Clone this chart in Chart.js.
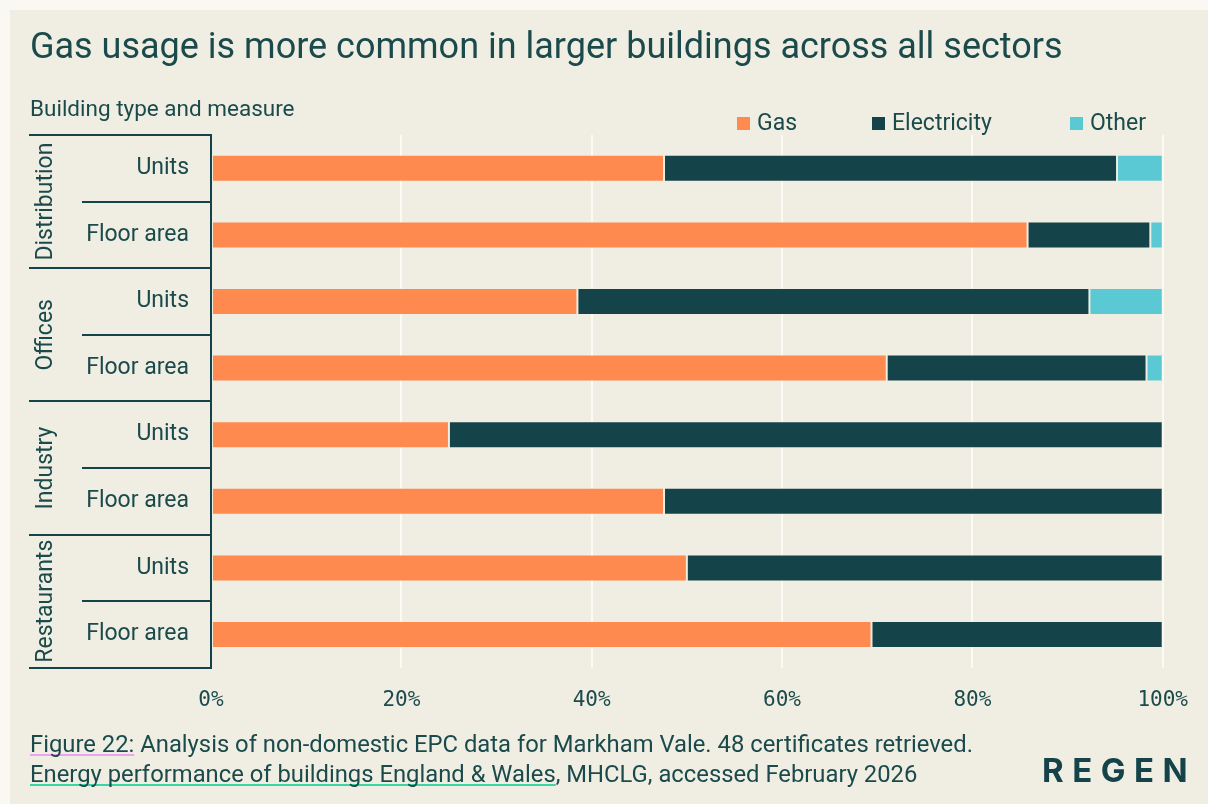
<!DOCTYPE html>
<html>
<head>
<meta charset="utf-8">
<script src="https://cdn.jsdelivr.net/npm/chart.js@4"></script>
<style>
  html, body { margin: 0; padding: 0; background: #f9f8f3; }
  #frame {
    position: absolute; left: 10px; top: 10px; width: 1198px; height: 794px;
    background: #f0eee2; color: #1b4a4c; font-family: Roboto, "Noto Sans", sans-serif;
  }
  #frame canvas { position: absolute; left: 0; top: 0; }
  .title { position: absolute; left: 20px; top: 15px; font-size: 36px; white-space: nowrap; }
  .caption { position: absolute; left: 20px; top: 85px; font-size: 22.5px; white-space: nowrap; }
  .note { position: absolute; left: 20px; font-size: 23.8px; white-space: nowrap; }
  .note1 { top: 720px; }
  .note2 { top: 750px; }
  .ul-pink, .ul-green {
    text-decoration: underline; text-decoration-thickness: 2px;
    text-underline-offset: 2px; text-decoration-skip-ink: none;
  }
  .ul-pink { text-decoration-color: #eba4f4; }
  .ul-green { text-decoration-color: #37d6a4; }
  .logo { position: absolute; left: 1032px; top: 740px; font-family: Inter, sans-serif; font-weight: 700;
          font-size: 33px; letter-spacing: 8.5px; color: #14444a; }
</style>
</head>
<body>
<div id="frame">
  <canvas id="chart" width="1198" height="794"></canvas>
  <div class="title">Gas usage is more common in larger buildings across all sectors</div>
  <div class="caption">Building type and measure</div>
  <div class="note note1"><span class="ul-pink">Figure 22:</span> Analysis of non-domestic EPC data for Markham Vale. 48 certificates retrieved.</div>
  <div class="note note2"><span class="ul-green">Energy performance of buildings England &amp; Wales</span>, MHCLG, accessed February 2026</div>
  <div class="logo">REGEN</div>
</div>
<script>
// Share of EPC certificates (units) and floor area by main heating fuel, per building type

const groups = ["Distribution", "Offices", "Industry", "Restaurants"];
const measures = ["Units", "Floor area"];
const categories = ["Distribution Units", "Distribution Floor area", "Offices Units", "Offices Floor area",
  "Industry Units", "Industry Floor area", "Restaurants Units", "Restaurants Floor area"];

const gasShare = [47.6, 85.8, 38.5, 71.0, 25.0, 47.6, 50.0, 69.4];
const electricityShare = [47.6, 12.9, 53.8, 27.3, 75.0, 52.4, 50.0, 30.6];
const otherShare = [4.8, 1.3, 7.7, 1.7, 0, 0, 0, 0];

const xTicks = [0, 20, 40, 60, 80, 100];

const INK = "#1b4a4c";
const TEAL = "#14444a";

// ── Category labels, group brackets and legend ──

const decorations = {
  id: "decorations",
  afterDraw(chart) {
    var ctx = chart.ctx;
    var area = chart.chartArea;
    var y = chart.scales.y;
    var step = y.getPixelForValue(1) - y.getPixelForValue(0);

    ctx.save();
    ctx.fillStyle = INK;
    ctx.strokeStyle = TEAL;
    ctx.lineWidth = 2;

    // measure labels, right aligned against the axis
    ctx.font = "23px Roboto, sans-serif";
    ctx.textAlign = "right";
    ctx.textBaseline = "middle";
    categories.forEach(function (c, i) {
      ctx.fillText(measures[i % measures.length], area.left - 22, y.getPixelForValue(i));
    });

    // separators: long ones between groups, short ones between measures
    for (var i = 0; i <= categories.length; i++) {
      var py = Math.round(y.getPixelForValue(i) - step / 2);
      var x0 = (i % measures.length === 0) ? 19 : 72;
      ctx.beginPath();
      ctx.moveTo(x0, py);
      ctx.lineTo(area.left + 1, py);
      ctx.stroke();
    }

    // rotated group names
    ctx.textAlign = "center";
    groups.forEach(function (g, gi) {
      var first = gi * measures.length;
      var cy = (y.getPixelForValue(first) + y.getPixelForValue(first + measures.length - 1)) / 2;
      ctx.save();
      ctx.translate(36, cy);
      ctx.rotate(-Math.PI / 2);
      ctx.fillText(g, 0, 0);
      ctx.restore();
    });

    // legend
    var legendX = [727, 862, 1060];
    ctx.font = "23px Roboto, sans-serif";
    ctx.textAlign = "left";
    chart.data.datasets.forEach(function (ds, di) {
      ctx.fillStyle = ds.backgroundColor;
      ctx.fillRect(legendX[di], 107, 13, 13);
      ctx.fillStyle = INK;
      ctx.fillText(ds.label, legendX[di] + 20, 114);
    });
    ctx.restore();
  },
};

new Chart(document.getElementById("chart"), {
  type: "bar",
  data: {
    labels: categories,
    datasets: [
      { label: "Gas", data: gasShare, backgroundColor: "#ff8a4f" },
      { label: "Electricity", data: electricityShare, backgroundColor: "#14444a" },
      { label: "Other", data: otherShare, backgroundColor: "#5ac9d4" },
    ],
  },
  options: {
    indexAxis: "y",
    responsive: false,
    animation: false,
    devicePixelRatio: 1,
    layout: { padding: { left: 201, right: 42, top: 125, bottom: 71 } },
    datasets: {
      bar: {
        barPercentage: 0.405,
        categoryPercentage: 1,
        borderWidth: 1,
        borderColor: "rgba(240, 238, 226, 0.35)",
        borderSkipped: false,
      },
    },
    plugins: {
      legend: { display: false },
      tooltip: { enabled: false },
    },
    scales: {
      x: {
        stacked: true,
        min: 0,
        max: 100,
        afterBuildTicks: function (scale) {
          scale.ticks = xTicks.map(function (v) { return { value: v }; });
        },
        grid: { color: "#fbfaf5", lineWidth: 2, drawTicks: false },
        border: { display: false },
        ticks: {
          padding: 20,
          color: INK,
          font: { family: "DejaVu Sans Mono", size: 21 },
          callback: function (v) { return v + "%"; },
        },
      },
      y: {
        stacked: true,
        grid: { display: false, drawTicks: false },
        border: { display: true, color: TEAL, width: 2 },
        ticks: { display: false },
      },
    },
  },
  plugins: [decorations],
});
</script>
</body>
</html>
